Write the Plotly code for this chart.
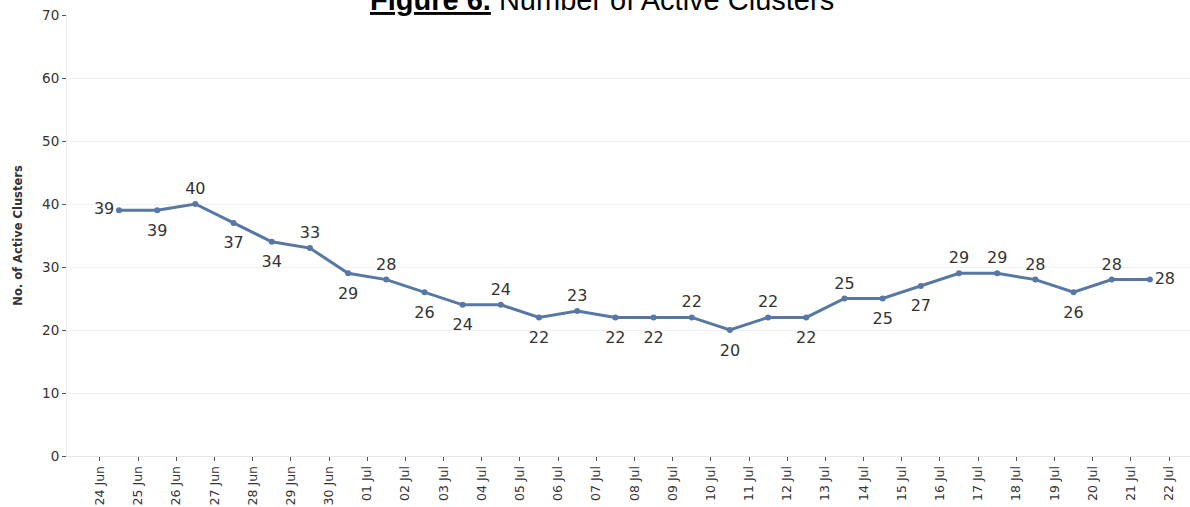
import pandas as pd
import plotly.graph_objects as go

day_labels = ["24 Jun", "25 Jun", "26 Jun", "27 Jun", "28 Jun", "29 Jun", "30 Jun",
              "01 Jul", "02 Jul", "03 Jul", "04 Jul", "05 Jul", "06 Jul", "07 Jul",
              "08 Jul", "09 Jul", "10 Jul", "11 Jul", "12 Jul", "13 Jul", "14 Jul",
              "15 Jul", "16 Jul", "17 Jul", "18 Jul", "19 Jul", "20 Jul", "21 Jul", "22 Jul"]
active_clusters = [39, 39, 40, 37, 34, 33, 29, 28, 26, 24, 24, 22, 23, 22, 22, 22, 20,
                   22, 22, 25, 25, 27, 29, 29, 28, 26, 28, 28]
label_side = ["middle left", "bottom center", "top center", "bottom center", "bottom center",
              "top center", "bottom center", "top center", "bottom center", "bottom center",
              "top center", "bottom center", "top center", "bottom center", "bottom center",
              "top center", "bottom center", "top center", "bottom center", "top center",
              "bottom center", "bottom center", "top center", "top center", "top center",
              "bottom center", "top center", "middle right"]

tick_days = pd.date_range("2020-06-24", periods=len(day_labels), freq="D")
point_x = tick_days[:len(active_clusters)] + pd.Timedelta(hours=12)

# spacer marker sizes (invisible) controlling the gap between point and its label
label_gap = [20 if s.startswith("bottom") else (8 if s.startswith("top") else 6) for s in label_side]

fig = go.Figure()
fig.add_trace(go.Scatter(
    x=point_x, y=active_clusters,
    mode="lines+markers",
    line=dict(color="#5778a4", width=3),
    marker=dict(color="#5778a4", size=6),
    cliponaxis=False,
    showlegend=False,
))
fig.add_trace(go.Scatter(
    x=point_x, y=active_clusters,
    mode="markers+text",
    text=[str(v) for v in active_clusters],
    textposition=label_side,
    textfont=dict(family="DejaVu Sans", size=16, color="#333333"),
    marker=dict(color="rgba(0,0,0,0)", size=label_gap, line=dict(width=0)),
    hoverinfo="skip",
    cliponaxis=False,
    showlegend=False,
))

x0 = tick_days[0] - pd.Timedelta(hours=20.7)
x1 = tick_days[-1] + pd.Timedelta(hours=13.2)

fig.update_layout(
    width=1190, height=507,
    margin=dict(l=67, r=0, t=15, b=51),
    paper_bgcolor="white", plot_bgcolor="white",
    font=dict(family="DejaVu Sans", color="#333333"),
    xaxis=dict(
        type="date", range=[x0, x1], automargin=False,
        tickvals=tick_days, ticktext=day_labels, tickangle=-90,
        tickfont=dict(family="DejaVu Sans", size=12.5, color="#333333"),
        ticks="outside", ticklen=4, tickcolor="#555555",
        showgrid=False, showline=True, linecolor="#e6e6e6", linewidth=1,
        zeroline=False,
    ),
    yaxis=dict(
        range=[0, 70], dtick=10, automargin=False,
        tickfont=dict(family="DejaVu Sans", size=13.5, color="#333333"),
        ticks="outside", ticklen=4, tickcolor="#555555",
        showgrid=True, gridcolor="#f0f0f0", gridwidth=1,
        showline=True, linecolor="#ebebeb", linewidth=1,
        zeroline=False,
        title=dict(text="<b>No. of Active Clusters</b>",
                   font=dict(family="DejaVu Sans", size=11.5, color="#333333"),
                   standoff=17),
    ),
    annotations=[dict(
        text="<b><u>Figure 6.</u></b> Number of Active Clusters",
        xref="paper", yref="paper", x=0.476, y=1.033,
        xanchor="center", yanchor="middle", showarrow=False,
        font=dict(family="Liberation Sans", size=29, color="#000000"),
    )],
)

fig.write_html("out.html", config={"displayModeBar": False},
               post_script="document.body.style.margin='0';document.body.style.overflow='hidden';")
